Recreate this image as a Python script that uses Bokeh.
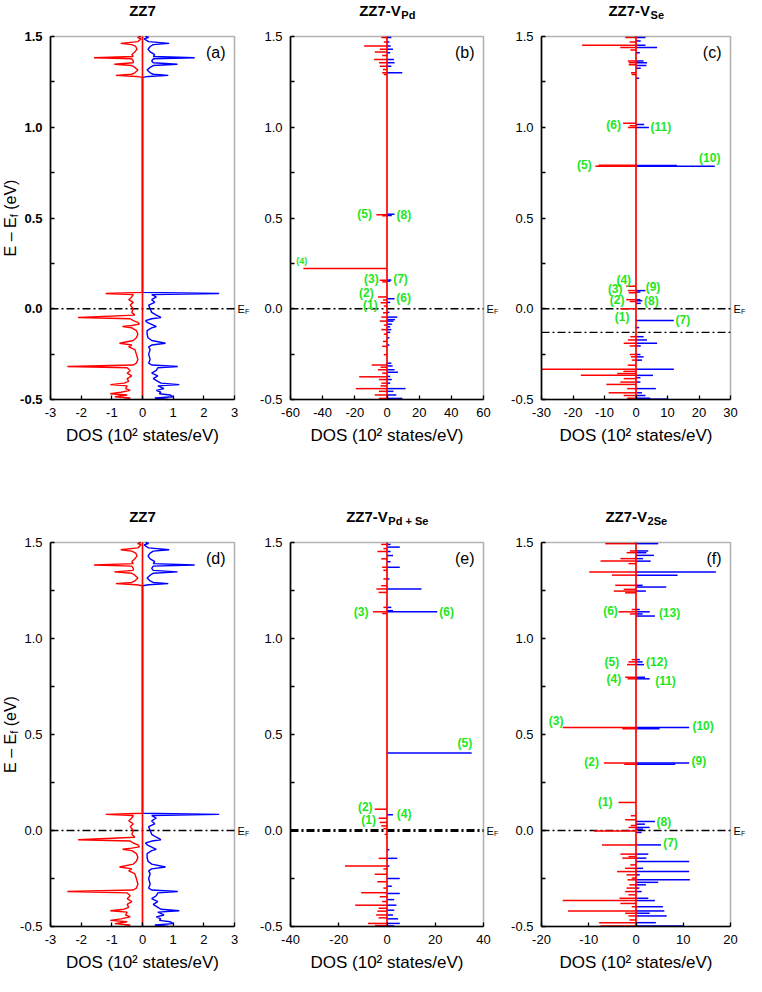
import math
from bokeh.plotting import figure
from bokeh.models import Range1d, FixedTicker, NumeralTickFormatter, Label, BoxAnnotation
from bokeh.layouts import column, row
from bokeh.embed import file_html
from bokeh.resources import INLINE
from bokeh.core.properties import value

# ---------------- data (E in eV, DOS in 10^2 states/eV) ----------------
ZZ7_DOWN = [
    (1.500, -0.05), (1.495, -0.16), (1.487, -0.05), (1.472, -0.15), (1.462, -0.71), (1.455, -0.35),
    (1.445, -0.22), (1.430, -0.18), (1.415, -0.25), (1.400, -0.35), (1.390, -0.30), (1.383, -1.58),
    (1.377, -0.35), (1.365, -0.30), (1.355, -0.30), (1.347, -0.92), (1.340, -0.35), (1.330, -0.25),
    (1.315, -0.15), (1.300, -0.25), (1.292, -0.35), (1.286, -0.87), (1.280, -0.20), (1.275, 0.0),
    (0.090, 0.0), (0.084, -1.20), (0.078, -0.30), (0.065, -0.35), (0.050, -0.45), (0.035, -0.30),
    (0.020, -0.40), (0.000, -0.30), (-0.020, -0.35), (-0.035, -0.25), (-0.048, -2.10), (-0.055, -0.40),
    (-0.065, -0.30), (-0.075, -0.15), (-0.085, -0.10), (-0.092, -0.35), (-0.098, -0.65), (-0.105, -0.35),
    (-0.120, -0.20), (-0.140, -0.15), (-0.160, -0.20), (-0.175, -0.30), (-0.190, -0.75), (-0.200, -0.35),
    (-0.210, -0.45), (-0.225, -0.25), (-0.250, -0.20), (-0.280, -0.15), (-0.300, -0.20), (-0.310, -0.30),
    (-0.318, -2.45), (-0.325, -0.50), (-0.340, -0.40), (-0.355, -0.50), (-0.370, -0.35), (-0.385, -0.50),
    (-0.400, -0.45), (-0.410, -0.60), (-0.418, -1.05), (-0.425, -0.50), (-0.440, -0.55), (-0.450, -0.40),
    (-0.460, -0.70), (-0.468, -1.05), (-0.475, -0.50), (-0.485, -0.90), (-0.492, -0.40), (-0.500, -0.60),
]
ZZ7_UP = [
    (1.500, 0.10), (1.495, 0.20), (1.487, 0.05), (1.472, 0.20), (1.462, 0.87), (1.455, 0.35),
    (1.445, 0.25), (1.430, 0.18), (1.415, 0.25), (1.400, 0.40), (1.390, 0.35), (1.383, 1.70),
    (1.377, 0.35), (1.365, 0.30), (1.355, 0.35), (1.347, 1.14), (1.340, 0.35), (1.330, 0.25),
    (1.315, 0.15), (1.300, 0.25), (1.292, 0.35), (1.286, 0.84), (1.280, 0.20), (1.275, 0.0),
    (0.090, 0.0), (0.084, 2.50), (0.078, 0.30), (0.065, 0.45), (0.050, 0.30), (0.035, 0.40),
    (0.020, 0.20), (0.000, 0.25), (-0.020, 0.30), (-0.035, 0.45), (-0.048, 0.60), (-0.055, 0.30),
    (-0.065, 0.10), (-0.075, 0.15), (-0.090, 0.35), (-0.098, 0.45), (-0.105, 0.30), (-0.120, 0.15),
    (-0.140, 0.15), (-0.160, 0.18), (-0.175, 0.30), (-0.190, 0.75), (-0.200, 0.30), (-0.210, 0.20),
    (-0.225, 0.25), (-0.250, 0.20), (-0.280, 0.25), (-0.300, 0.20), (-0.310, 0.30), (-0.318, 1.15),
    (-0.325, 0.50), (-0.340, 0.45), (-0.355, 0.30), (-0.370, 0.50), (-0.385, 0.35), (-0.400, 0.50),
    (-0.410, 0.60), (-0.418, 1.20), (-0.425, 0.50), (-0.440, 0.70), (-0.450, 0.45), (-0.460, 0.60),
    (-0.468, 0.55), (-0.475, 0.90), (-0.485, 1.00), (-0.492, 0.40), (-0.500, 0.85),
]

VPD_DOWN = [
    (1.494, -3.5), (1.470, -2.0), (1.447, -14.2), (1.430, -4.5), (1.414, -7.6), (1.395, -3.0),
    (1.373, -8.0), (1.355, -5.0), (1.336, -4.5), (1.318, -2.5), (1.300, -3.0), (1.290, -2.0),
    (0.518, -6.6), (0.512, -3.0), (0.222, -52.0), (0.157, -4.5), (0.148, -3.0), (0.065, -5.6),
    (0.048, -2.5), (0.033, -4.0), (0.015, -2.0), (-0.022, -2.5), (-0.046, -3.5), (-0.068, -4.5),
    (-0.090, -2.0), (-0.115, -3.5), (-0.140, -2.0), (-0.180, -2.5), (-0.207, -3.0), (-0.253, -2.0),
    (-0.310, -9.5), (-0.322, -4.0), (-0.336, -5.6), (-0.355, -3.0), (-0.375, -17.3), (-0.390, -5.0),
    (-0.410, -3.5), (-0.425, -4.0), (-0.440, -19.4), (-0.455, -5.0), (-0.475, -7.6), (-0.494, -5.0),
]
VPD_UP = [
    (1.494, 2.7), (1.470, 1.5), (1.447, 2.3), (1.430, 3.7), (1.410, 2.0), (1.373, 4.3),
    (1.355, 4.7), (1.336, 2.7), (1.300, 9.5), (0.520, 4.7), (0.514, 3.0), (0.158, 2.7),
    (0.152, 2.0), (0.055, 4.7), (0.035, 2.0), (-0.020, 1.5), (-0.046, 6.4), (-0.060, 5.0),
    (-0.068, 4.0), (-0.085, 3.0), (-0.100, 2.0), (-0.115, 2.7), (-0.130, 2.0), (-0.160, 1.5),
    (-0.200, 1.5), (-0.300, 2.7), (-0.315, 3.5), (-0.336, 4.7), (-0.350, 6.8), (-0.373, 2.0),
    (-0.390, 3.0), (-0.410, 2.0), (-0.440, 11.5), (-0.455, 4.0), (-0.475, 5.8), (-0.494, 9.5),
]

VSE_DOWN = [
    (1.494, -3.4), (1.470, -2.0), (1.452, -17.1), (1.439, -5.0), (1.425, -1.8), (1.365, -2.6),
    (1.355, -2.3), (1.345, -2.3), (1.300, -1.6), (1.290, -1.4), (1.022, -4.1), (1.008, -2.0),
    (0.998, -2.6), (0.790, -11.9), (0.785, -12.9), (0.124, -3.1), (0.100, -2.6), (0.088, -2.3),
    (0.050, -3.1), (0.040, -2.0), (0.000, -5.0), (-0.154, -1.8), (-0.172, -2.6), (-0.190, -3.9),
    (-0.205, -2.0), (-0.252, -2.0), (-0.265, -1.6), (-0.283, -1.3), (-0.311, -2.6), (-0.333, -30.0),
    (-0.345, -4.0), (-0.357, -6.0), (-0.367, -17.5), (-0.385, -3.9), (-0.404, -5.0), (-0.417, -9.4),
    (-0.440, -2.8), (-0.463, -8.7), (-0.478, -3.9), (-0.493, -2.8),
]
VSE_UP = [
    (1.494, 3.0), (1.475, 1.5), (1.452, 3.0), (1.440, 6.7), (1.410, 1.2), (1.365, 2.4),
    (1.355, 3.5), (1.340, 3.3), (1.325, 1.5), (1.270, 1.0), (1.015, 2.6), (0.998, 4.1),
    (0.789, 13.0), (0.785, 25.0), (0.100, 3.0), (0.092, 1.4), (0.050, 1.4), (0.044, 2.0),
    (0.030, 1.5), (-0.065, 12.0), (-0.104, 1.0), (-0.154, 2.4), (-0.172, 3.5), (-0.190, 6.7),
    (-0.205, 1.5), (-0.252, 1.4), (-0.265, 2.4), (-0.283, 1.9), (-0.333, 12.0), (-0.367, 5.4),
    (-0.380, 1.4), (-0.404, 1.4), (-0.440, 6.3), (-0.463, 1.9), (-0.478, 3.0), (-0.493, 4.5),
    (-0.498, 10.0),
]

VPDSE_DOWN = [
    (1.490, -2.4), (1.468, -1.5), (1.453, -4.0), (1.415, -2.4), (1.371, -2.0), (1.355, -1.5),
    (1.310, -1.5), (1.275, -2.4), (1.258, -4.4), (1.240, -3.5), (1.162, -1.5), (1.139, -5.8),
    (1.130, -2.0), (0.111, -5.1), (0.064, -3.5), (0.042, -3.0), (0.024, -2.4), (0.010, -1.5),
    (-0.020, -1.0), (-0.145, -3.5), (-0.185, -17.4), (-0.200, -1.5), (-0.228, -5.1), (-0.267, -4.0),
    (-0.300, -1.5), (-0.324, -10.7), (-0.345, -3.0), (-0.370, -2.0), (-0.389, -13.2), (-0.405, -3.5),
    (-0.420, -4.0), (-0.440, -4.5), (-0.455, -3.5), (-0.484, -7.9), (-0.495, -5.0),
]
VPDSE_UP = [
    (1.490, 1.5), (1.476, 5.3), (1.453, 1.5), (1.432, 2.5), (1.400, 1.5), (1.371, 5.3),
    (1.310, 1.0), (1.258, 14.3), (1.162, 1.8), (1.145, 2.5), (1.139, 20.8), (0.404, 35.1),
    (0.082, 2.5), (-0.100, 1.0), (-0.145, 4.3), (-0.185, 1.0), (-0.250, 5.3), (-0.290, 2.0),
    (-0.328, 5.3), (-0.360, 3.0), (-0.389, 3.9), (-0.415, 3.0), (-0.440, 2.5), (-0.460, 4.6),
    (-0.484, 5.3), (-0.497, 3.0),
]

V2SE_DOWN = [
    (1.494, -6.5), (1.456, -1.3), (1.447, -2.0), (1.416, -3.3), (1.403, -7.5), (1.390, -1.6),
    (1.346, -9.9), (1.330, -5.1), (1.277, -4.4), (1.256, -2.6), (1.247, -4.7), (1.238, -2.3),
    (1.151, -0.9), (1.139, -3.7), (1.128, -1.3), (0.890, -0.9), (0.878, -1.6), (0.864, -1.9),
    (0.798, -2.3), (0.790, -1.8), (0.537, -15.5), (0.530, -2.9), (0.351, -6.8), (0.345, -2.5),
    (0.146, -3.7), (0.077, -1.1), (0.056, -2.3), (0.026, -1.1), (0.016, -1.6), (-0.003, -8.9),
    (-0.075, -7.2), (-0.123, -3.3), (-0.136, -1.6), (-0.144, -2.9), (-0.179, -1.2), (-0.197, -2.3),
    (-0.214, -4.0), (-0.231, -2.0), (-0.248, -0.9), (-0.257, -1.8), (-0.283, -1.4), (-0.300, -2.0),
    (-0.318, -2.3), (-0.335, -1.6), (-0.353, -3.5), (-0.365, -15.5), (-0.380, -3.3), (-0.397, -0.9),
    (-0.419, -14.4), (-0.431, -2.3), (-0.445, -1.6), (-0.466, -1.4), (-0.480, -7.8), (-0.497, -7.5),
]
V2SE_UP = [
    (1.494, 4.7), (1.456, 2.6), (1.447, 2.2), (1.433, 3.8), (1.416, 1.5), (1.403, 3.1),
    (1.346, 16.9), (1.330, 8.8), (1.277, 1.4), (1.268, 6.4), (1.247, 2.1), (1.151, 0.8),
    (1.139, 2.9), (1.128, 1.4), (1.117, 4.0), (0.890, 0.8), (0.878, 1.4), (0.864, 1.7),
    (0.798, 1.9), (0.790, 2.9), (0.537, 11.25), (0.530, 5.0), (0.351, 11.25), (0.345, 8.3),
    (0.047, 4.0), (0.033, 1.9), (0.016, 2.9), (0.007, 1.5), (-0.010, 1.2), (-0.075, 5.3),
    (-0.123, 2.6), (-0.144, 2.2), (-0.162, 11.25), (-0.197, 1.5), (-0.214, 11.25), (-0.231, 0.8),
    (-0.257, 11.4), (-0.270, 4.7), (-0.283, 2.1), (-0.300, 0.7), (-0.318, 1.2), (-0.353, 2.6),
    (-0.365, 4.0), (-0.397, 5.7), (-0.419, 6.0), (-0.431, 2.9), (-0.445, 6.5), (-0.480, 4.2),
    (-0.497, 10.0),
]

# state labels (x in DOS units, E, text)
VPD_LABELS = [(-13.9, 0.523, "(5)"), (10.5, 0.514, "(8)"), (-9.7, 0.163, "(3)"), (8.4, 0.163, "(7)"),
              (-12.8, 0.089, "(2)"), (10.3, 0.061, "(6)"), (-10.3, 0.020, "(1)")]
VPD_SMALL_LABELS = [(-53.0, 0.264, "(4)")]
VSE_LABELS = [(-7.1, 1.013, "(6)"), (7.9, 1.004, "(11)"), (-16.4, 0.791, "(5)"), (23.4, 0.828, "(10)"),
              (-3.9, 0.161, "(4)"), (-6.6, 0.109, "(3)"), (5.4, 0.119, "(9)"), (-6.0, 0.048, "(2)"),
              (4.9, 0.044, "(8)"), (-4.4, -0.045, "(1)"), (14.9, -0.061, "(7)")]
VPDSE_LABELS = [(-10.7, 1.139, "(3)"), (24.7, 1.139, "(6)"), (32.3, 0.456, "(5)"), (-9.0, 0.122, "(2)"),
                (7.1, 0.087, "(4)"), (-7.6, 0.056, "(1)")]
V2SE_LABELS = [(-5.4, 1.143, "(6)"), (7.1, 1.134, "(13)"), (-5.1, 0.877, "(5)"), (4.4, 0.878, "(12)"),
               (-4.7, 0.790, "(4)"), (6.25, 0.777, "(11)"), (-16.9, 0.569, "(3)"), (14.2, 0.546, "(10)"),
               (-9.4, 0.357, "(2)"), (13.3, 0.360, "(9)"), (-6.5, 0.146, "(1)"), (5.9, 0.042, "(8)"),
               (7.3, -0.063, "(7)")]

E_RANGE = (-0.5, 1.5)
Y_TICKS = [-0.5, 0.0, 0.5, 1.0, 1.5]
Y_MINOR = [-0.25, 0.25, 0.75, 1.25]
FERMI_LEVEL = 0.0
FERMI_EXTRA_VSE = [-0.13]

# ---------------- styling ----------------
FONT = "Liberation Sans"
RED = "#ff0000"
BLUE = "#0000ff"
GREEN = "#22e622"
TITLE_PX = 15
SUB_PX = 11
DASHDOT = "8 3 2 3"


def make_panel(xr, xticks, cw, ch, bl, br, bt, bb,
               title_main, main_em, title_sub, sub_em, tag, bold_y=False, ylabel=False,
               ef_width=1.3, extra_ef=()):
    """cw, ch: canvas size; bl, br, bt, bb: pixel margins between canvas edge and the data box."""
    bw = cw - bl - br
    bh = ch - bt - bb
    sx = bw / (xr[1] - xr[0])
    sy = bh / (E_RANGE[1] - E_RANGE[0])
    p = figure(width=cw, height=ch,
               x_range=Range1d(xr[0] - bl / sx, xr[1] + br / sx),
               y_range=Range1d(E_RANGE[0] - bb / sy, E_RANGE[1] + bt / sy),
               output_backend="svg", toolbar_location=None, title=None, min_border=0)
    p.background_fill_color = "white"
    p.border_fill_color = "white"
    p.outline_line_color = None
    p.xgrid.visible = False
    p.ygrid.visible = False

    p.xaxis.fixed_location = E_RANGE[0]
    p.yaxis.fixed_location = xr[0]
    p.xaxis.bounds = tuple(xr)
    p.yaxis.bounds = E_RANGE
    p.xaxis.ticker = FixedTicker(ticks=xticks, minor_ticks=[])
    p.yaxis.ticker = FixedTicker(ticks=Y_TICKS, minor_ticks=Y_MINOR)
    p.xaxis.formatter = NumeralTickFormatter(format="0")
    p.yaxis.formatter = NumeralTickFormatter(format="0.0")
    for ax in (p.xaxis[0], p.yaxis[0]):
        ax.axis_line_color = "black"
        ax.axis_line_width = 1.6
        ax.major_tick_in = 4
        ax.major_tick_out = 0
        ax.minor_tick_in = 4
        ax.minor_tick_out = 0
        ax.major_tick_line_width = 1.3
        ax.minor_tick_line_width = 1.3
        ax.major_label_text_font = FONT
        ax.major_label_text_font_size = "13px"
        ax.major_label_text_color = "black"
    p.xaxis.major_label_standoff = 8
    p.yaxis.major_label_standoff = 8
    if bold_y:
        p.yaxis.major_label_text_font_style = "bold"
    p.xaxis.axis_label = "DOS (10\u00b2 states/eV)"
    p.xaxis.axis_label_text_font = FONT
    p.xaxis.axis_label_text_font_size = "17px"
    p.xaxis.axis_label_text_font_style = "normal"
    p.xaxis.axis_label_text_color = "black"
    p.xaxis.axis_label_standoff = 6

    # box round the data area
    p.add_layout(BoxAnnotation(left=xr[0], right=xr[1], bottom=E_RANGE[0], top=E_RANGE[1],
                               fill_alpha=0, line_color="black", line_width=1.6, level="overlay"))

    # Fermi level line(s)
    p.line(x=list(xr), y=[FERMI_LEVEL, FERMI_LEVEL], line_color="black", line_width=ef_width,
           line_dash=DASHDOT)
    for loc in extra_ef:
        p.line(x=list(xr), y=[loc, loc], line_color="black", line_width=1.3, line_dash=DASHDOT)

    # E_F label on the right of the box
    p.add_layout(Label(x=xr[1], y=FERMI_LEVEL, x_offset=3, y_offset=0, text="E",
                       text_font=FONT, text_font_size="11px", text_color="black",
                       text_align="left", text_baseline="middle"))
    p.add_layout(Label(x=xr[1], y=FERMI_LEVEL, x_offset=10.4, y_offset=-3, text="F",
                       text_font=FONT, text_font_size="7px", text_color="black",
                       text_align="left", text_baseline="middle"))

    # title (with subscript)
    mid = 0.5 * (xr[0] + xr[1])
    main_w = main_em * TITLE_PX
    sub_w = sub_em * SUB_PX
    anchor_off = -(main_w + sub_w) / 2 + main_w
    p.add_layout(Label(x=mid, y=E_RANGE[1], x_offset=anchor_off, y_offset=26, text=title_main,
                       text_font=FONT, text_font_size=f"{TITLE_PX}px", text_font_style="bold",
                       text_color="black", text_align="right", text_baseline="middle"))
    if title_sub:
        p.add_layout(Label(x=mid, y=E_RANGE[1], x_offset=anchor_off + 0.5, y_offset=22, text=title_sub,
                           text_font=FONT, text_font_size=f"{SUB_PX}px", text_font_style="bold",
                           text_color="black", text_align="left", text_baseline="middle"))

    # panel tag
    p.add_layout(Label(x=xr[1], y=E_RANGE[1], x_offset=-9, y_offset=-7, text=tag,
                       text_font=FONT, text_font_size="16px", text_color="black",
                       text_align="right", text_baseline="top"))

    if ylabel:
        ypx = 16
        w1 = 2.446 * ypx
        wf = 0.278 * 11
        wsp = 0.278 * ypx
        w3 = 1.889 * ypx
        s1 = -(w1 + wf + wsp + w3) / 2 + w1
        xo = -40
        ymid = 0.5 * (E_RANGE[0] + E_RANGE[1])
        p.add_layout(Label(x=xr[0], y=ymid, x_offset=xo, y_offset=s1, angle=math.pi / 2,
                           text="E \u2013 E", text_font=FONT, text_font_size=f"{ypx}px",
                           text_color="black", text_align="right", text_baseline="middle"))
        p.add_layout(Label(x=xr[0], y=ymid, x_offset=xo + 3.5, y_offset=s1, angle=math.pi / 2,
                           text="f", text_font=FONT, text_font_size="11px",
                           text_color="black", text_align="left", text_baseline="middle"))
        p.add_layout(Label(x=xr[0], y=ymid, x_offset=xo, y_offset=s1 + wf + wsp, angle=math.pi / 2,
                           text="(eV)", text_font=FONT, text_font_size=f"{ypx}px",
                           text_color="black", text_align="left", text_baseline="middle"))
    return p


def add_curve(p, pairs, color):
    e = [a for a, b in pairs]
    d = [b for a, b in pairs]
    p.line(x=d, y=e, line_color=color, line_width=1.4)


def add_spikes(p, pairs, color):
    e = [a for a, b in pairs]
    d = [b for a, b in pairs]
    p.segment(x0=[0.0] * len(e), y0=e, x1=d, y1=e, line_color=color, line_width=1.5)


def add_zero(p):
    # the spin-down curve's zero baseline, drawn over the whole energy window
    p.line(x=[0.0, 0.0], y=list(E_RANGE), line_color=RED, line_width=1.7)


def add_labels(p, labels, size="12px"):
    p.text(x=[a for a, b, c in labels], y=[b for a, b, c in labels], text=[c for a, b, c in labels],
           text_color=GREEN, text_font=value(FONT), text_font_style="bold", text_font_size=size,
           text_align="center", text_baseline="middle")


# canvas sizes and data-box margins (px)
C1 = (252, 50, 18)   # width, box left margin, box right margin
C2 = (251, 38, 20)
C3 = (243, 38, 16)
R1 = (503, 36, 104)  # height, box top margin, box bottom margin
R2 = (473, 39, 50)

ZZ7_EM = 1.778
ZZ7V_EM = 2.778


def geo(c, r):
    return dict(cw=c[0], bl=c[1], br=c[2], ch=r[0], bt=r[1], bb=r[2])


pa = make_panel((-3, 3), [-3, -2, -1, 0, 1, 2, 3], title_main="ZZ7", main_em=ZZ7_EM, title_sub="",
                sub_em=0, tag="(a)", bold_y=True, ylabel=True, **geo(C1, R1))
add_curve(pa, ZZ7_UP, BLUE)
add_curve(pa, ZZ7_DOWN, RED)
add_zero(pa)

pb = make_panel((-60, 60), [-60, -40, -20, 0, 20, 40, 60], title_main="ZZ7-V", main_em=ZZ7V_EM,
                title_sub="Pd", sub_em=1.278, tag="(b)", **geo(C2, R1))
add_spikes(pb, VPD_UP, BLUE)
add_spikes(pb, VPD_DOWN, RED)
add_zero(pb)
add_labels(pb, VPD_LABELS)
add_labels(pb, VPD_SMALL_LABELS, size="9px")

pc = make_panel((-30, 30), [-30, -20, -10, 0, 10, 20, 30], title_main="ZZ7-V", main_em=ZZ7V_EM,
                title_sub="Se", sub_em=1.223, tag="(c)", extra_ef=FERMI_EXTRA_VSE, **geo(C3, R1))
add_spikes(pc, VSE_UP, BLUE)
add_spikes(pc, VSE_DOWN, RED)
add_zero(pc)
add_labels(pc, VSE_LABELS)

pd = make_panel((-3, 3), [-3, -2, -1, 0, 1, 2, 3], title_main="ZZ7", main_em=ZZ7_EM, title_sub="",
                sub_em=0, tag="(d)", ylabel=True, **geo(C1, R2))
add_curve(pd, ZZ7_UP, BLUE)
add_curve(pd, ZZ7_DOWN, RED)
add_zero(pd)

pe = make_panel((-40, 40), [-40, -20, 0, 20, 40], title_main="ZZ7-V", main_em=ZZ7V_EM,
                title_sub="Pd + Se", sub_em=3.641, tag="(e)", ef_width=3.0, **geo(C2, R2))
add_spikes(pe, VPDSE_UP, BLUE)
add_spikes(pe, VPDSE_DOWN, RED)
add_zero(pe)
add_labels(pe, VPDSE_LABELS)

pf = make_panel((-20, 20), [-20, -10, 0, 10, 20], title_main="ZZ7-V", main_em=ZZ7V_EM,
                title_sub="2Se", sub_em=1.779, tag="(f)", **geo(C3, R2))
add_spikes(pf, V2SE_UP, BLUE)
add_spikes(pf, V2SE_DOWN, RED)
add_zero(pf)
add_labels(pf, V2SE_LABELS)

layout = column(row(pa, pb, pc), row(pd, pe, pf))

with open("out.html", "w") as f:
    f.write(file_html(layout, INLINE))
